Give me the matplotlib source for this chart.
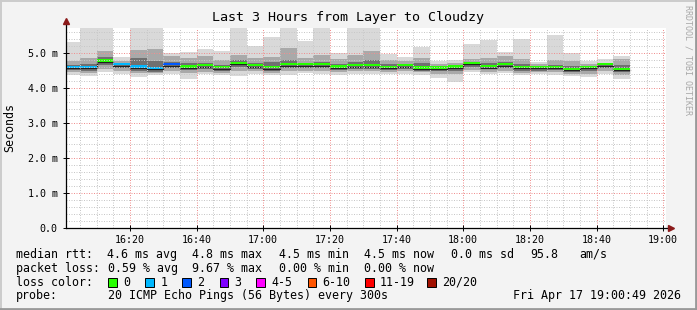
import pandas as pd
import matplotlib
matplotlib.use('Agg')
import matplotlib.pyplot as plt
import matplotlib.dates as mdates
from matplotlib.patches import Rectangle

plt.rcParams['font.family'] = ['DejaVu Sans Mono']

# 5 minute slots, each bar ends at its time stamp
slot_end = pd.date_range('2026-04-17 16:05', '2026-04-17 18:50', freq='5min')

# ping times in ms (outer ring .. inner ring, median)
rtt_max = [5.32, 5.73, 5.73, 4.90, 5.73, 5.73, 5.01, 5.02, 5.11, 5.05, 5.73, 5.19, 5.45, 5.73, 5.35, 5.73, 5.00,
           5.73, 5.73, 4.96, 4.90, 5.18, 4.77, 4.80, 5.26, 5.37, 5.02, 5.40, 4.75, 5.51, 4.99, 4.78, 4.82, 4.91]
rtt_hi2 = [4.78, 4.85, 5.05, 4.78, 5.10, 5.12, 4.90, 4.85, 4.90, 4.80, 4.95, 4.85, 4.90, 5.15, 4.85, 4.95, 4.82,
           4.95, 5.05, 4.80, 4.78, 4.85, 4.70, 4.72, 4.82, 4.85, 4.90, 4.82, 4.68, 4.80, 4.78, 4.70, 4.72, 4.82]
rtt_hi3 = [4.66, 4.68, 4.88, 4.70, 4.85, 4.78, 4.75, 4.70, 4.72, 4.66, 4.80, 4.70, 4.75, 4.80, 4.72, 4.75, 4.68,
           4.75, 4.80, 4.68, 4.68, 4.70, 4.62, 4.64, 4.72, 4.70, 4.75, 4.68, 4.62, 4.65, 4.62, 4.62, 4.68, 4.65]
rtt_median = [4.56, 4.56, 4.74, 4.64, 4.57, 4.53, 4.64, 4.57, 4.61, 4.55, 4.68, 4.61, 4.55, 4.64, 4.64, 4.64, 4.57,
              4.61, 4.61, 4.56, 4.61, 4.54, 4.54, 4.57, 4.68, 4.58, 4.64, 4.56, 4.56, 4.56, 4.51, 4.56, 4.64, 4.51]
rtt_lo3 = [4.52, 4.50, 4.65, 4.57, 4.50, 4.47, 4.57, 4.52, 4.55, 4.50, 4.60, 4.55, 4.48, 4.56, 4.58, 4.57, 4.52,
           4.55, 4.55, 4.52, 4.55, 4.50, 4.48, 4.50, 4.60, 4.53, 4.57, 4.50, 4.50, 4.51, 4.46, 4.50, 4.56, 4.45]
rtt_lo2 = [4.46, 4.42, 4.55, 4.48, 4.42, 4.42, 4.48, 4.42, 4.47, 4.44, 4.48, 4.48, 4.42, 4.48, 4.50, 4.50, 4.45,
           4.48, 4.48, 4.46, 4.48, 4.45, 4.40, 4.40, 4.52, 4.47, 4.50, 4.44, 4.45, 4.45, 4.40, 4.40, 4.48, 4.38]
rtt_min = [4.37, 4.33, 4.47, 4.39, 4.31, 4.36, 4.39, 4.26, 4.39, 4.38, 4.33, 4.40, 4.36, 4.38, 4.42, 4.40, 4.38,
           4.40, 4.40, 4.40, 4.40, 4.37, 4.28, 4.18, 4.45, 4.40, 4.42, 4.38, 4.40, 4.38, 4.33, 4.32, 4.40, 4.26]
lost_pings = [1, 1, 0, 1, 1, 1, 2, 0, 0, 0, 0, 0, 0, 0, 0, 0, 0,
              0, 0, 0, 0, 0, 0, 0, 0, 0, 0, 0, 0, 0, 0, 0, 0, 0]

loss_labels = ['0', '1', '2', '3', '4-5', '6-10', '11-19', '20/20']
loss_colors = ['#26ff00', '#00b8ff', '#0059ff', '#7e00ff', '#ff00ff', '#ff5500', '#ff0000', '#a01000']
y_ticks = [0, 1, 2, 3, 4, 5]
y_ticklabels = ['0.0', '1.0 m', '2.0 m', '3.0 m', '4.0 m', '5.0 m']

W, H = 697, 310
fig = plt.figure(figsize=(W / 100, H / 100), dpi=100, facecolor='#f3f3f3')
ax = fig.add_axes([66 / W, (H - 228) / H, 600 / W, 200 / H])
ax.set_facecolor('white')

bw = pd.Timedelta(minutes=5) / pd.Timedelta(days=1)
xs = mdates.date2num(slot_end)

# smoke
rings = [(rtt_min, rtt_max, '#d9d9d9'), (rtt_lo2, rtt_hi2, '#a9a9a9'), (rtt_lo3, rtt_hi3, '#707070')]
for lo, hi, c in rings:
    ax.bar(xs, [h - l for l, h in zip(lo, hi)], bottom=lo, width=-bw, align='edge', color=c, linewidth=0, zorder=1)

# median line + loss coloured band
ax.step(list(xs - bw) + [xs[-1]], rtt_median + [rtt_median[-1]], where='post', color='#202020', lw=0.9, zorder=2)
ax.bar(xs, [0.06] * len(xs), bottom=[m + 0.015 for m in rtt_median], width=-bw, align='edge',
       color=[loss_colors[n] for n in lost_pings], linewidth=0, zorder=2)

t0 = pd.Timestamp('2026-04-17 16:00:49')
t1 = pd.Timestamp('2026-04-17 19:00:49')
ax.set_xlim(mdates.date2num(t0), mdates.date2num(t1))
ax.set_ylim(0, 200 / 35)

ax.xaxis.set_major_locator(mdates.MinuteLocator(byminute=[0, 20, 40]))
ax.xaxis.set_minor_locator(mdates.MinuteLocator(byminute=range(0, 60, 5)))
ax.xaxis.set_major_formatter(mdates.DateFormatter('%H:%M'))
ax.set_yticks(y_ticks)
ax.set_yticklabels(y_ticklabels)
ax.set_yticks([v / 5 for v in range(0, 29)], minor=True)

ax.set_axisbelow(False)
ax.grid(which='minor', color='#c8c8c8', lw=0.72, linestyle=(0, (1, 1.5)), zorder=3)
ax.grid(which='major', color='#f09090', lw=0.72, linestyle=(0, (1, 1.5)), zorder=3)
ax.tick_params(which='major', direction='inout', length=4, width=0.7, labelsize=7.2, colors='black')
ax.tick_params(which='minor', length=0)
ax.tick_params(axis='x', pad=3)
ax.tick_params(axis='y', pad=4)
for s in ax.spines.values():
    s.set_visible(False)

# axes with arrows
ax.plot([0, 0], [0, 1 + 7 / 200], transform=ax.transAxes, color='black', lw=0.9, clip_on=False, zorder=4)
ax.plot([0, 1 + 4 / 600], [0, 0], transform=ax.transAxes, color='black', lw=0.9, clip_on=False, zorder=4)
ax.plot([0], [1 + 7 / 200], marker='^', ms=5, color='#8b1a1a', transform=ax.transAxes, clip_on=False, zorder=5)
ax.plot([1 + 5 / 600], [0], marker='>', ms=5, color='#8b1a1a', transform=ax.transAxes, clip_on=False, zorder=5)


def fx(x):
    return x / W


def fy(y):
    return 1 - y / H


fig.text(fx(348.5), fy(18), 'Last 3 Hours from Layer to Cloudzy', fontsize=9.6, ha='center', va='center')
fig.text(fx(10), fy(128), 'Seconds', fontsize=8.4, rotation=90, ha='center', va='center')
fig.text(fx(688), fy(5), 'RRDTOOL / TOBI OETIKER', fontsize=6, rotation=270, ha='center', va='top', color='#a8a8a8')

fs = 8.4
row1 = [(15.6, 'median rtt:'), (106.7, '4.6 ms avg'), (192.4, '4.8 ms max'), (278.7, '4.5 ms min'),
        (364.4, '4.5 ms now'), (451, '0.0 ms sd'), (530, '95.8'), (579, 'am/s')]
row2 = [(15.6, 'packet loss:'), (107.5, '0.59 % avg'), (192.4, '9.67 % max'), (278.7, '0.00 % min'),
        (364.4, '0.00 % now')]
for x, s in row1:
    fig.text(fx(x), fy(254.3), s, fontsize=fs, va='center')
for x, s in row2:
    fig.text(fx(x), fy(268.3), s, fontsize=fs, va='center')

fig.text(fx(15.6), fy(282.3), 'loss color:', fontsize=fs, va='center')
box_x = [108, 145.3, 182, 219.5, 256.4, 307.6, 365, 427]
for bx, lab, c in zip(box_x, loss_labels, loss_colors):
    fig.patches.append(Rectangle((fx(bx), fy(286.5)), 8.5 / W, 9 / H, transform=fig.transFigure,
                                 facecolor=c, edgecolor='black', lw=0.7))
    fig.text(fx(bx + 15), fy(282.3), lab, fontsize=fs, va='center')

fig.text(fx(15.6), fy(296), 'probe:', fontsize=fs, va='center')
fig.text(fx(107.5), fy(296), '20 ICMP Echo Pings (56 Bytes) every 300s', fontsize=fs, va='center')
fig.text(fx(681), fy(296), 'Fri Apr 17 19:00:49 2026', fontsize=fs, va='center', ha='right')

# outer frame shading
fig.add_artist(plt.Line2D([0, 1], [1 - 0.5 / H, 1 - 0.5 / H], color='#cbcbcb', lw=1.4))
fig.add_artist(plt.Line2D([0.5 / W, 0.5 / W], [0, 1], color='#cbcbcb', lw=1.4))
fig.add_artist(plt.Line2D([0, 1], [1.2 / H, 1.2 / H], color='#999999', lw=2))
fig.add_artist(plt.Line2D([1 - 1.2 / W, 1 - 1.2 / W], [0, 1], color='#999999', lw=2))

fig.savefig('out.png', dpi=100, facecolor=fig.get_facecolor())
